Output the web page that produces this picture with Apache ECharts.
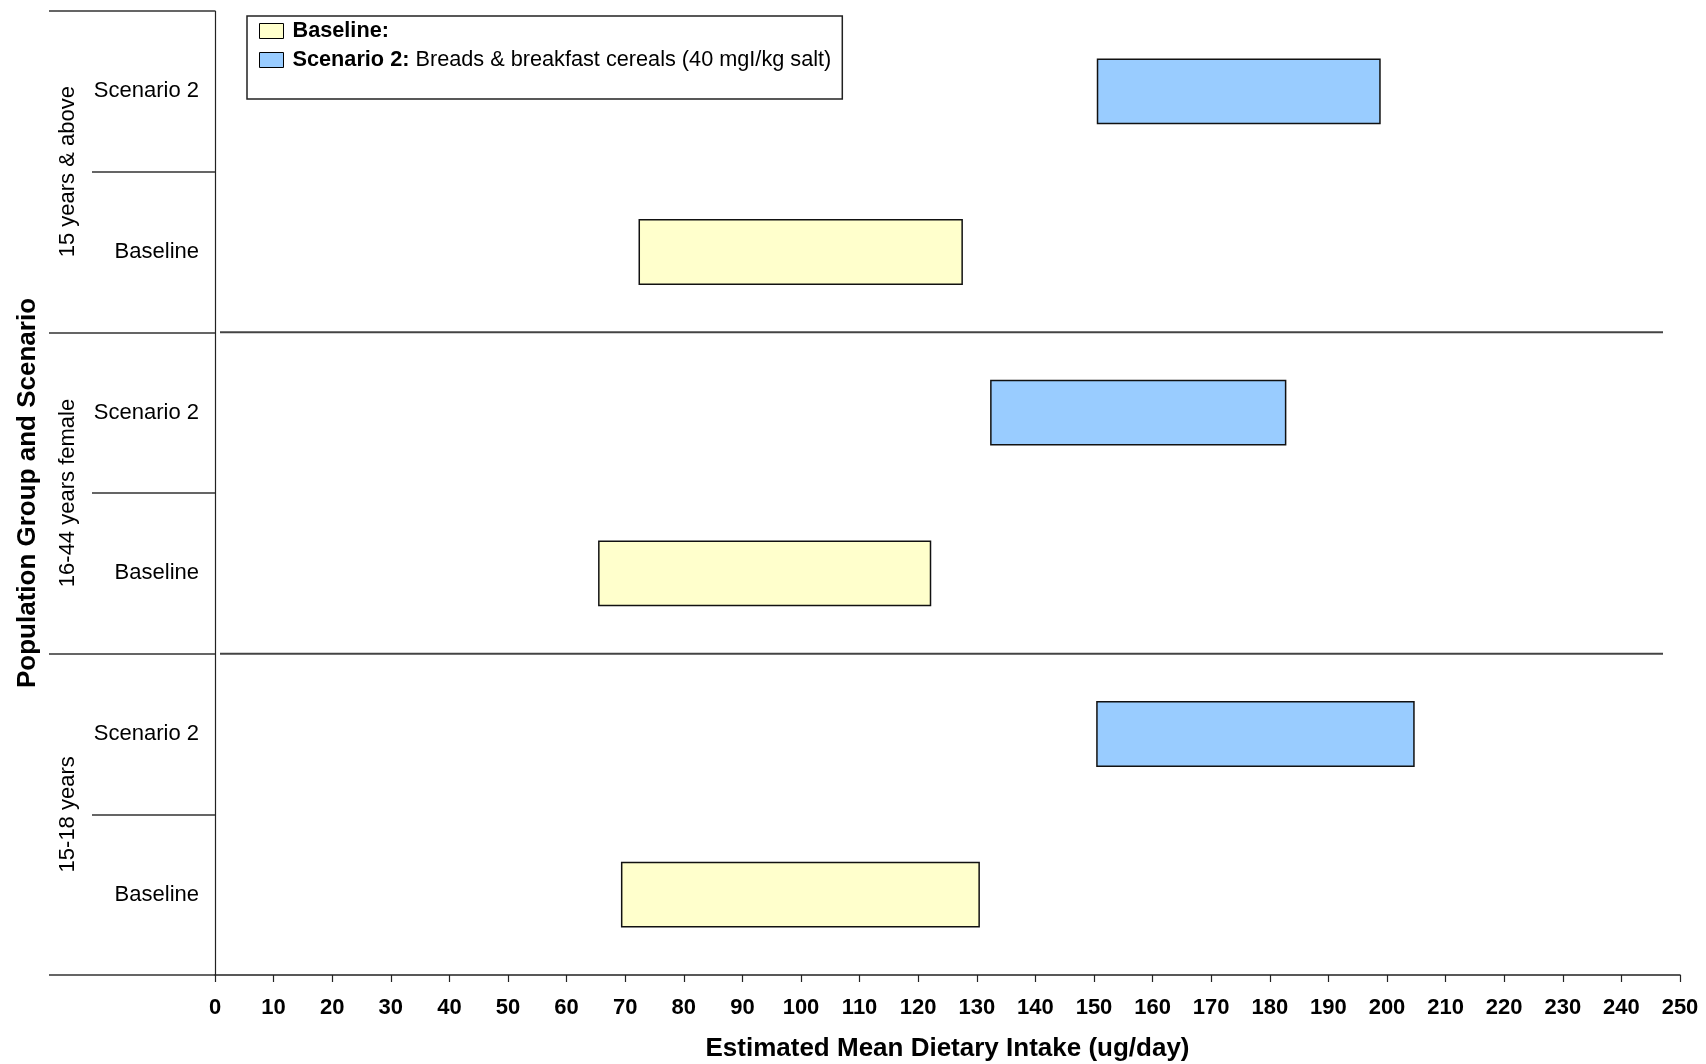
<!DOCTYPE html>
<html>
<head>
<meta charset="utf-8">
<title>Estimated Mean Dietary Intake by Population Group and Scenario</title>
<script src="https://cdn.jsdelivr.net/npm/echarts@6/dist/echarts.min.js"></script>
<style>
  html, body { margin: 0; padding: 0; background: #fff; }
  #chart { width: 1706px; height: 1064px; }
</style>
</head>
<body>
<div id="chart"></div>
<script>
// Population groups, listed bottom to top
const groups = ['15-18 years', '16-44 years female', '15 years & above'];
// Row labels, bottom to top (each group has a Baseline row and a Scenario 2 row)
const rowLabels = ['Baseline', 'Scenario 2', 'Baseline', 'Scenario 2', 'Baseline', 'Scenario 2'];

// Intake ranges (ug/day), one entry per group, in the same order as `groups`
const baselineLow   = [69.4, 65.5, 72.4];
const baselineHigh  = [130.4, 122.1, 127.5];
const scenario2Low  = [150.5, 132.4, 150.6];
const scenario2High = [204.6, 182.7, 198.8];

// X axis range and step
const xMin = 0;
const xMax = 250;
const xStep = 10;

const seriesNames = ['Baseline:', 'Scenario 2:'];
const scenario2Desc = 'Breads & breakfast cereals (40 mgI/kg salt)';

const FONT = "'Liberation Sans', Arial, Helvetica, sans-serif";

// Build [rowIndex, low, high] tuples for a series
function rangeRows(low, high, offset) {
  return low.map((v, g) => [g * 2 + offset, v, high[g]]);
}

// Draw a floating bar from low to high on its row
function renderRange(params, api) {
  const row = api.value(0);
  const p0 = api.coord([api.value(1), row]);
  const p1 = api.coord([api.value(2), row]);
  const h = api.size([0, 1])[1] * 0.4;
  return {
    type: 'rect',
    shape: { x: p0[0], y: p0[1] - h / 2, width: p1[0] - p0[0], height: h },
    style: api.style()
  };
}

// Horizontal divider between one group and the next, drawn slightly inset from the plot edges
function renderDivider(params, api) {
  const lowerRow = api.value(0);
  const a = api.coord([xMin, lowerRow]);
  const b = api.coord([xMax, lowerRow + 1]);
  const y = (a[1] + b[1]) / 2;
  return {
    type: 'line',
    shape: { x1: a[0] + 5, y1: y, x2: b[0] - 17, y2: y },
    style: { stroke: '#444', lineWidth: 2 }
  };
}

// Top row index of each group except the uppermost one
const dividerRows = groups.slice(0, -1).map((g, i) => [i * 2 + 1]);

const chart = echarts.init(document.getElementById('chart'), null, { renderer: 'canvas' });

chart.setOption({
  animation: false,
  backgroundColor: '#ffffff',
  textStyle: { fontFamily: FONT },
  grid: { left: 215, right: 26, top: 11, bottom: 89, containLabel: false, outerBoundsMode: 'none' },
  legend: {
    left: 247,
    top: 16,
    orient: 'vertical',
    icon: 'rect',
    itemWidth: 24,
    itemHeight: 15,
    itemGap: 7,
    padding: [4, 11, 28, 12],
    backgroundColor: '#ffffff',
    borderColor: '#222',
    borderWidth: 1.5,
    borderRadius: 0,
    selectedMode: false,
    itemStyle: { borderColor: '#000', borderWidth: 1 },
    data: seriesNames,
    formatter: function (name) {
      return name === 'Scenario 2:'
        ? '{b|' + name + '} ' + scenario2Desc
        : '{b|' + name + '}';
    },
    textStyle: {
      fontFamily: FONT,
      fontSize: 21.7,
      color: '#000',
      lineHeight: 22,
      padding: [0, 0, 0, 4],
      rich: {
        b: { fontFamily: FONT, fontSize: 21.7, fontWeight: 'bold', color: '#000', lineHeight: 22 }
      }
    }
  },
  xAxis: {
    type: 'value',
    min: xMin,
    max: xMax,
    interval: xStep,
    name: 'Estimated Mean Dietary Intake (ug/day)',
    nameLocation: 'middle',
    nameGap: 61,
    nameTextStyle: { fontFamily: FONT, fontSize: 26, fontWeight: 'bold', color: '#000' },
    axisLine: { show: true, lineStyle: { color: '#222', width: 1.5 } },
    axisTick: { show: true, length: 7, lineStyle: { color: '#222', width: 1.2 } },
    axisLabel: { fontFamily: FONT, fontSize: 22, fontWeight: 'bold', color: '#000', margin: 22 },
    splitLine: { show: false }
  },
  yAxis: [
    {
      type: 'category',
      data: rowLabels,
      position: 'left',
      axisLine: { show: true, lineStyle: { color: '#222', width: 1.2 } },
      axisTick: { show: true, length: 123, lineStyle: { color: '#333', width: 1.5 } },
      axisLabel: { fontFamily: FONT, fontSize: 22, color: '#000', margin: 16 },
      splitLine: { show: false }
    },
    {
      type: 'category',
      data: groups,
      position: 'left',
      name: 'Population Group and Scenario',
      nameLocation: 'middle',
      nameGap: 174,
      nameRotate: 90,
      nameTextStyle: { fontFamily: FONT, fontSize: 26, fontWeight: 'bold', color: '#000' },
      axisLine: { show: false },
      axisTick: { show: true, length: 166, lineStyle: { color: '#333', width: 1.5 } },
      axisLabel: { fontFamily: FONT, fontSize: 22, color: '#000', rotate: 90, margin: 136 },
      splitLine: { show: false }
    }
  ],
  series: [
    {
      name: 'group dividers',
      type: 'custom',
      xAxisIndex: 0,
      yAxisIndex: 0,
      silent: true,
      renderItem: renderDivider,
      encode: { y: 0 },
      data: dividerRows,
      z: 1
    },
    {
      name: seriesNames[0],
      type: 'custom',
      xAxisIndex: 0,
      yAxisIndex: 0,
      renderItem: renderRange,
      itemStyle: { color: '#FFFFCC', borderColor: '#111', borderWidth: 1.5 },
      encode: { x: [1, 2], y: 0 },
      data: rangeRows(baselineLow, baselineHigh, 0),
      z: 2
    },
    {
      name: seriesNames[1],
      type: 'custom',
      xAxisIndex: 0,
      yAxisIndex: 0,
      renderItem: renderRange,
      itemStyle: { color: '#99CCFF', borderColor: '#111', borderWidth: 1.5 },
      encode: { x: [1, 2], y: 0 },
      data: rangeRows(scenario2Low, scenario2High, 1),
      z: 2
    }
  ]
});
</script>
</body>
</html>
